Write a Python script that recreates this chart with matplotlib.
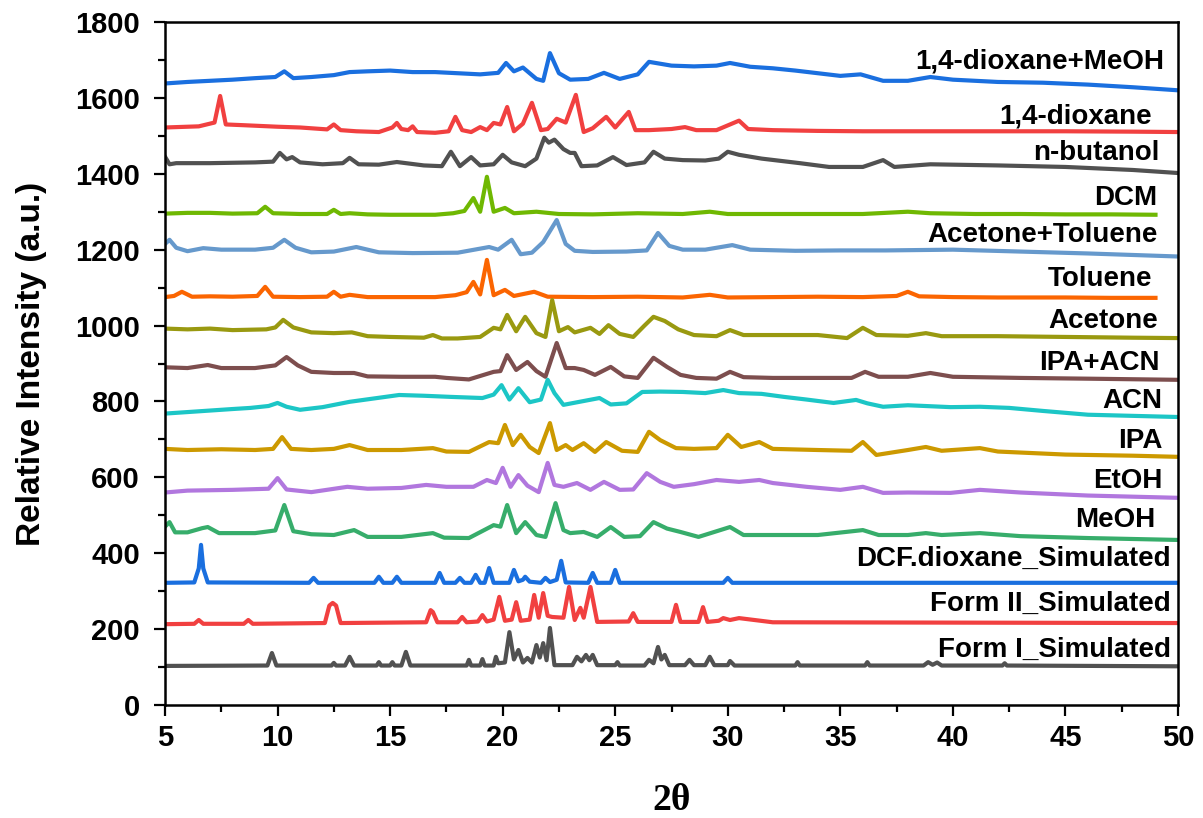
import matplotlib
matplotlib.use("Agg")
import matplotlib.pyplot as plt
from matplotlib.ticker import MultipleLocator
import numpy as np

# trace data: (2theta, intensity) pairs
dioxane_meoh = [(5, 1638), (6, 1642), (7, 1645), (8, 1648), (9, 1652), (9.9, 1655), (10.3, 1670), (10.7, 1652),
                (11.5, 1655), (12.5, 1660), (13.2, 1668), (14, 1670), (15, 1672), (16, 1668), (17, 1668), (18, 1665),
                (19, 1662), (19.8, 1666), (20.15, 1692), (20.5, 1670), (20.9, 1680), (21.5, 1650), (21.8, 1645),
                (22.1, 1718), (22.5, 1665), (23.0, 1648), (23.8, 1650), (24.5, 1666), (25.2, 1650), (26.0, 1662),
                (26.5, 1695), (27.5, 1685), (28.5, 1683), (29.5, 1685), (30.1, 1692), (31, 1682), (32, 1678),
                (33, 1672), (34, 1665), (35, 1658), (35.9, 1662), (36.9, 1645), (38, 1645), (39, 1655), (40, 1648),
                (42, 1642), (44, 1640), (46, 1635), (48, 1628), (50, 1620)]

dioxane = [(5, 1522), (6.5, 1525), (7.2, 1535), (7.45, 1605), (7.7, 1530), (8.5, 1528), (10, 1524), (11, 1522),
           (12.2, 1517), (12.5, 1530), (12.8, 1515), (13.5, 1512), (14.5, 1510), (15.1, 1522), (15.3, 1534),
           (15.5, 1518), (15.8, 1515), (16.0, 1525), (16.2, 1510), (17.0, 1508), (17.6, 1512), (17.9, 1550),
           (18.2, 1515), (18.6, 1510), (19.0, 1523), (19.3, 1515), (19.6, 1534), (19.9, 1530), (20.2, 1576),
           (20.5, 1512), (20.9, 1532), (21.3, 1587), (21.7, 1515), (22.0, 1518), (22.4, 1545), (22.8, 1535),
           (23.25, 1608), (23.6, 1510), (24.0, 1520), (24.6, 1550), (25.0, 1522), (25.6, 1563), (25.9, 1515),
           (26.5, 1515), (27.5, 1518), (28.1, 1523), (28.6, 1515), (29.5, 1515), (30.5, 1540), (30.9, 1518),
           (32, 1515), (34, 1513), (36, 1512), (38, 1512), (40, 1512), (42, 1512), (45, 1512), (48, 1511), (50, 1510)]

butanol = [(5, 1445), (5.2, 1425), (5.5, 1428), (7, 1428), (9, 1430), (9.8, 1432), (10.1, 1455), (10.4, 1438),
           (10.65, 1444), (11.0, 1430), (12, 1425), (12.9, 1428), (13.2, 1442), (13.6, 1425), (14.5, 1424),
           (15.3, 1431), (16.5, 1422), (17.3, 1420), (17.7, 1458), (18.1, 1420), (18.6, 1444), (19.0, 1422),
           (19.6, 1425), (20.0, 1450), (20.4, 1430), (21.0, 1420), (21.5, 1440), (21.85, 1495), (22.05, 1482),
           (22.3, 1490), (22.7, 1465), (23.0, 1455), (23.2, 1455), (23.5, 1420), (24.2, 1422), (24.9, 1444),
           (25.5, 1423), (26.3, 1430), (26.7, 1458), (27.2, 1440), (28, 1436), (29, 1435), (29.6, 1440),
           (30.0, 1458), (30.5, 1450), (31.5, 1440), (33.2, 1428), (34.5, 1418), (36, 1418), (36.9, 1436),
           (37.4, 1418), (39, 1425), (42, 1422), (45, 1418), (48, 1410), (50, 1402)]

dcm = [(5, 1295), (6, 1297), (7, 1297), (8, 1295), (9.1, 1296), (9.45, 1313), (9.8, 1296), (11, 1294),
       (12.2, 1294), (12.5, 1305), (12.8, 1294), (13.2, 1296), (14, 1293), (15, 1292), (16, 1292), (17, 1292),
       (17.8, 1296), (18.3, 1302), (18.7, 1336), (19.0, 1300), (19.3, 1392), (19.6, 1300), (20.1, 1310),
       (20.5, 1296), (21.5, 1300), (22.5, 1294), (24, 1293), (26, 1296), (28, 1294), (29.2, 1300), (30, 1294),
       (32, 1294), (34, 1294), (36, 1294), (38, 1300), (39, 1296), (41, 1294), (43, 1294), (45, 1293),
       (47, 1293), (49, 1292)]

acetone_toluene = [(5, 1215), (5.2, 1226), (5.5, 1205), (6, 1196), (6.7, 1204), (7.5, 1200), (9, 1200),
                   (9.8, 1205), (10.3, 1226), (10.8, 1205), (11.5, 1193), (12.5, 1195), (13.5, 1207), (14.5, 1193),
                   (16, 1191), (18, 1192), (19.4, 1207), (19.8, 1200), (20.4, 1226), (20.8, 1188), (21.3, 1192),
                   (21.8, 1220), (22.4, 1278), (22.8, 1215), (23.2, 1197), (24, 1194), (25.5, 1195), (26.4, 1198),
                   (26.9, 1244), (27.4, 1210), (28, 1200), (29, 1200), (30.2, 1212), (31, 1200), (33, 1197),
                   (35, 1198), (37, 1198), (40, 1200), (43, 1195), (46, 1190), (50, 1182)]

toluene = [(5, 1075), (5.4, 1078), (5.75, 1089), (6.2, 1076), (7, 1077), (8, 1076), (9.1, 1078), (9.45, 1102),
           (9.8, 1076), (11, 1075), (12.2, 1076), (12.5, 1089), (12.8, 1076), (13.2, 1081), (14, 1075),
           (15.5, 1075), (17, 1075), (17.9, 1080), (18.4, 1088), (18.7, 1115), (19.0, 1082), (19.3, 1173),
           (19.6, 1080), (20.1, 1094), (20.5, 1078), (21.4, 1089), (22, 1076), (24, 1075), (26, 1076), (28, 1074),
           (29.2, 1081), (30, 1074), (32, 1075), (34, 1076), (36, 1075), (37.5, 1078), (38, 1089), (38.5, 1077),
           (40, 1075), (42, 1074), (45, 1074), (47, 1073), (49, 1073)]

acetone = [(5, 992), (6, 990), (7, 992), (8, 988), (9.5, 990), (9.9, 995), (10.25, 1015), (10.7, 995),
           (11.5, 982), (12.5, 980), (13.3, 982), (14, 972), (15, 970), (16.5, 968), (16.9, 975), (17.3, 966),
           (18, 966), (19.0, 970), (19.6, 994), (19.9, 990), (20.2, 1028), (20.6, 985), (21.0, 1023), (21.5, 980),
           (21.9, 970), (22.2, 1067), (22.5, 985), (22.9, 996), (23.2, 982), (23.9, 994), (24.3, 978),
           (24.7, 1001), (25.2, 978), (25.8, 970), (26.3, 1000), (26.7, 1023), (27.2, 1012), (27.8, 990),
           (28.5, 975), (29.5, 972), (30.1, 988), (30.7, 975), (32, 975), (34, 975), (35.3, 967), (36.0, 994),
           (36.6, 975), (38, 973), (38.8, 980), (39.5, 972), (42, 972), (45, 970), (48, 968), (50, 967)]

ipa_acn = [(5, 890), (6, 888), (6.9, 896), (7.5, 888), (9, 888), (9.9, 895), (10.4, 917), (10.9, 895),
           (11.5, 878), (12.5, 875), (13.4, 875), (14, 866), (15.5, 865), (17.0, 865), (17.5, 862), (18.5, 858),
           (19.6, 878), (19.9, 880), (20.2, 922), (20.6, 883), (21.1, 904), (21.5, 880), (21.9, 865), (22.4, 954),
           (22.8, 888), (23.2, 888), (23.6, 883), (24.1, 870), (24.8, 891), (25.4, 866), (26.0, 862), (26.7, 915),
           (27.3, 891), (27.9, 870), (28.6, 862), (29.5, 860), (30.1, 878), (30.7, 864), (32, 862), (34, 862),
           (35.5, 862), (36.1, 878), (36.7, 865), (38, 865), (39.0, 875), (40, 865), (43, 862), (46, 860),
           (50, 857)]

acn = [(5, 768), (6, 772), (7, 776), (8, 780), (8.8, 783), (9.6, 788), (10.0, 796), (10.4, 786), (11, 778),
       (12, 785), (13.2, 799), (14.3, 808), (15.4, 817), (16.5, 815), (17.7, 812), (19.1, 809), (19.6, 818),
       (19.95, 843), (20.3, 805), (20.7, 835), (21.2, 798), (21.7, 805), (22.0, 857), (22.3, 822), (22.7, 791),
       (23.5, 800), (24.3, 809), (24.8, 792), (25.5, 795), (26.2, 825), (27, 826), (28, 825), (29, 822),
       (29.8, 830), (30.5, 822), (31.5, 820), (32.5, 812), (33.5, 805), (34.7, 796), (35.7, 804), (36.2, 795),
       (36.9, 786), (38, 790), (39.9, 785), (41.2, 786), (42.5, 783), (44, 775), (46, 765), (48, 762),
       (50, 759)]

ipa = [(5, 675), (6, 672), (7.5, 674), (9, 672), (9.8, 675), (10.2, 706), (10.6, 675), (11.5, 672),
       (12.5, 675), (13.2, 685), (14, 672), (15.5, 672), (16.9, 677), (17.5, 668), (18.5, 667), (19.4, 693),
       (19.8, 690), (20.1, 738), (20.45, 685), (20.8, 712), (21.2, 680), (21.6, 664), (22.1, 743), (22.4, 672),
       (22.8, 685), (23.1, 672), (23.6, 690), (24.1, 667), (24.6, 693), (25.3, 670), (26.0, 667), (26.5, 720),
       (27.0, 698), (27.7, 677), (28.5, 675), (29.5, 677), (30.0, 712), (30.6, 680), (31.4, 693), (32, 675),
       (34, 672), (35.5, 670), (36.0, 693), (36.6, 659), (38, 672), (38.8, 680), (39.5, 670), (41.2, 677),
       (42, 668), (45, 660), (48, 657), (50, 654)]

etoh = [(5, 560), (6, 565), (8, 567), (9.6, 570), (10.0, 598), (10.4, 568), (11.5, 561), (13.1, 575),
        (14, 570), (15.5, 572), (16.6, 580), (17.5, 575), (18.7, 575), (19.3, 593), (19.7, 585), (20.0, 625),
        (20.35, 575), (20.7, 606), (21.1, 578), (21.6, 561), (22.0, 638), (22.3, 580), (22.7, 575), (23.3, 585),
        (23.9, 567), (24.5, 588), (25.2, 567), (25.8, 568), (26.4, 611), (27.0, 588), (27.6, 575), (28.5, 582),
        (29.5, 593), (30.5, 588), (31.4, 593), (32, 585), (33.5, 575), (35, 567), (36.0, 575), (36.9, 559),
        (38, 560), (39.9, 559), (41.2, 567), (43, 560), (46, 552), (50, 546)]

meoh = [(5, 470), (5.2, 482), (5.45, 455), (6, 455), (6.65, 466), (6.9, 469), (7.4, 453), (9, 453), (9.9, 460),
        (10.3, 527), (10.7, 458), (11.5, 450), (12.5, 448), (13.4, 461), (14, 443), (15.5, 443), (16.9, 453),
        (17.4, 441), (18.5, 440), (19.6, 474), (19.9, 470), (20.2, 527), (20.6, 453), (21.0, 482), (21.5, 448),
        (21.9, 443), (22.35, 532), (22.7, 461), (23.0, 453), (23.6, 456), (24.2, 443), (24.8, 469), (25.4, 443),
        (26.1, 445), (26.7, 482), (27.3, 465), (27.9, 456), (28.7, 443), (30.1, 469), (30.7, 448), (32, 448),
        (34, 448), (36.0, 461), (36.7, 448), (38, 448), (38.8, 453), (39.5, 448), (41.2, 453), (43, 445),
        (46, 440), (50, 435)]

dcf_dioxane_sim = [(5, 322), (6.3, 323), (6.5, 360), (6.6, 422), (6.7, 360), (6.9, 323), (11.4, 322), (11.6, 335),
                   (11.8, 322), (14.3, 322), (14.5, 338), (14.7, 322), (15.1, 322), (15.3, 338), (15.5, 322),
                   (17.0, 322), (17.2, 348), (17.4, 322), (17.9, 322), (18.1, 335), (18.3, 322), (18.6, 322),
                   (18.8, 343), (19.0, 322), (19.2, 322), (19.4, 361), (19.6, 322), (20.3, 322), (20.5, 356),
                   (20.7, 326), (20.9, 330), (21.0, 338), (21.2, 325), (21.7, 322), (21.9, 335), (22.1, 324),
                   (22.4, 330), (22.6, 380), (22.8, 323), (23.8, 322), (24.0, 348), (24.2, 322), (24.8, 322),
                   (25.0, 356), (25.2, 322), (29.8, 322), (30.0, 335), (30.2, 322), (50, 322)]

form2_sim = [(5, 213), (6.3, 214), (6.5, 224), (6.7, 214), (8.5, 214), (8.7, 224), (8.9, 214), (12.1, 216),
             (12.3, 262), (12.45, 269), (12.6, 262), (12.8, 216), (16.6, 218), (16.8, 250), (16.9, 245),
             (17.1, 218), (18.0, 218), (18.2, 232), (18.4, 218), (18.9, 220), (19.1, 237), (19.3, 220),
             (19.6, 225), (19.85, 285), (20.1, 222), (20.4, 225), (20.6, 271), (20.8, 222), (21.2, 225),
             (21.4, 290), (21.6, 230), (21.8, 295), (22.0, 235), (22.2, 232), (22.7, 230), (22.95, 311),
             (23.2, 224), (23.45, 256), (23.6, 230), (23.9, 311), (24.2, 219), (25.6, 220), (25.8, 242),
             (26.0, 219), (27.5, 219), (27.7, 264), (27.9, 219), (28.7, 219), (28.9, 258), (29.1, 219),
             (29.6, 222), (29.8, 229), (30.1, 224), (30.5, 229), (32, 218), (50, 216)]

form1_sim = [(5, 103), (9.55, 104), (9.75, 137), (9.95, 104), (12.4, 104), (12.5, 111), (12.6, 104), (13.0, 104),
             (13.2, 127), (13.4, 104), (14.4, 104), (14.5, 113), (14.6, 104), (15.0, 104), (15.1, 113),
             (15.2, 104), (15.5, 104), (15.7, 140), (15.9, 104), (18.4, 104), (18.5, 119), (18.6, 104),
             (19.0, 104), (19.1, 121), (19.2, 104), (19.6, 104), (19.7, 127), (19.8, 110), (20.1, 112),
             (20.3, 192), (20.5, 120), (20.7, 145), (20.9, 112), (21.1, 124), (21.3, 112), (21.5, 158),
             (21.65, 125), (21.8, 163), (21.95, 118), (22.1, 203), (22.3, 105), (23.1, 105), (23.3, 127),
             (23.5, 115), (23.7, 132), (23.85, 118), (24.0, 132), (24.2, 105), (25.0, 105), (25.1, 113),
             (25.2, 104), (26.3, 104), (26.5, 119), (26.7, 110), (26.9, 153), (27.05, 120), (27.2, 132),
             (27.4, 105), (28.1, 105), (28.3, 119), (28.5, 105), (29.0, 105), (29.2, 127), (29.4, 105),
             (30.0, 105), (30.1, 116), (30.3, 104), (33.0, 104), (33.1, 113), (33.2, 104), (36.1, 104),
             (36.2, 113), (36.3, 104), (38.7, 104), (38.9, 113), (39.1, 106), (39.3, 112), (39.5, 104),
             (42.2, 104), (42.3, 110), (42.4, 104), (50, 102)]

names = ["1,4-dioxane+MeOH", "1,4-dioxane", "n-butanol", "DCM", "Acetone+Toluene", "Toluene", "Acetone",
         "IPA+ACN", "ACN", "IPA", "EtOH", "MeOH", "DCF.dioxane_Simulated", "Form II_Simulated", "Form I_Simulated"]
traces = [dioxane_meoh, dioxane, butanol, dcm, acetone_toluene, toluene, acetone,
          ipa_acn, acn, ipa, etoh, meoh, dcf_dioxane_sim, form2_sim, form1_sim]
colors = ["#1a6fdf", "#f14040", "#515151", "#6fb802", "#6699cc", "#fb6501", "#999910",
          "#7d4e4e", "#1cc6c6", "#cc9900", "#b177de", "#37ad6b", "#1a6fdf", "#f14040", "#515151"]

# label anchors (right edge x, centre y)
label_x = [49.4, 48.85, 49.2, 49.07, 49.1, 48.85, 49.1, 49.2, 49.3, 49.3, 49.33, 48.98, 49.67, 49.67, 49.67]
label_y = [1695, 1550, 1455, 1336, 1239, 1123, 1012, 902, 802, 696, 590, 487, 385, 266, 145]

plt.rcParams['font.family'] = ['Liberation Sans', 'DejaVu Sans']
plt.rcParams['font.weight'] = 'bold'

fig = plt.figure(figsize=(12.03, 8.18), dpi=100)
ax = fig.add_axes([165/1203, 113/818, 1013/1203, 683/818])

for pts, col in zip(traces, colors):
    arr = np.array(pts)
    ax.plot(arr[:, 0], arr[:, 1], color=col, lw=3.0, solid_joinstyle='round')

for name, lx, ly in zip(names, label_x, label_y):
    ax.text(lx, ly, name, ha='right', va='center', fontsize=20, fontweight='bold')

ax.set_xlim(5, 50)
ax.set_ylim(0, 1800)
ax.xaxis.set_major_locator(MultipleLocator(5))
ax.xaxis.set_minor_locator(MultipleLocator(2.5))
ax.yaxis.set_major_locator(MultipleLocator(200))
ax.yaxis.set_minor_locator(MultipleLocator(100))
ax.tick_params(which='major', direction='out', length=8, width=1.6, labelsize=21, pad=6)
ax.tick_params(axis='y', which='major', pad=10)
ax.tick_params(which='minor', direction='out', length=5, width=1.6)
for lab in ax.get_xticklabels() + ax.get_yticklabels():
    lab.set_fontweight('bold')
for sp in ax.spines.values():
    sp.set_linewidth(1.8)

ax.set_ylabel("Relative Intensity (a.u.)", fontsize=24, fontweight='bold', labelpad=20)
ax.set_xlabel("2θ", fontsize=27, fontweight='bold', family=['Liberation Serif', 'DejaVu Serif'], labelpad=22)

fig.savefig("out.png", dpi=100)
